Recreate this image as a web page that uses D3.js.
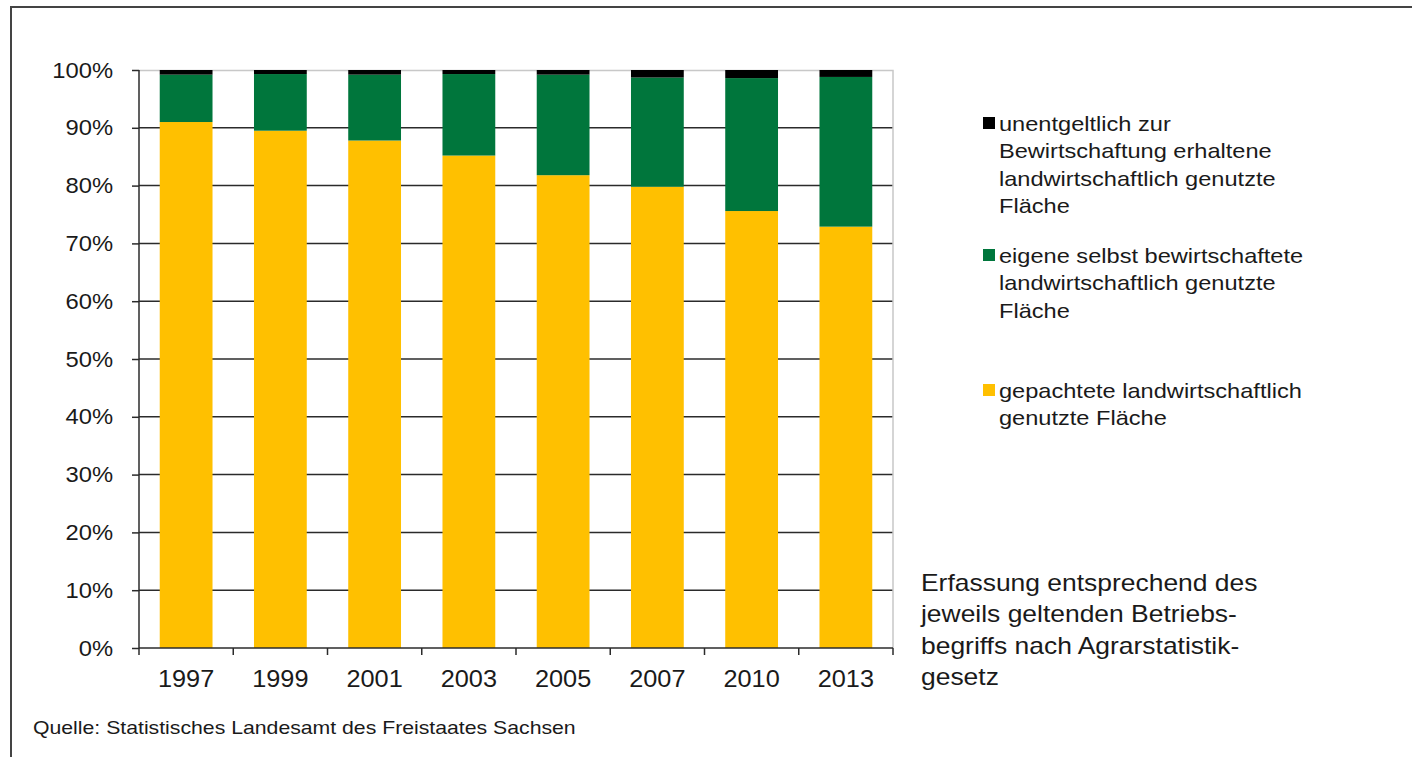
<!DOCTYPE html>
<html>
<head>
<meta charset="utf-8">
<script src="https://cdn.jsdelivr.net/npm/d3@7"></script>
<style>
  body { margin: 0; background: #fff; }
  text { font-family: "Liberation Sans", Arial, sans-serif; fill: #1a1a1a; }
</style>
</head>
<body>
<div id="chart"></div>
<script>
var years = ["1997", "1999", "2001", "2003", "2005", "2007", "2010", "2013"];
var gepachtet = [91.0, 89.5, 87.8, 85.2, 81.8, 79.8, 75.6, 72.9];
var unentgeltlich = [0.8, 0.7, 0.8, 0.7, 0.8, 1.3, 1.4, 1.2];
var eigene = [8.2, 9.8, 11.4, 14.1, 17.4, 18.9, 23.0, 25.9];
var yTicks = [0, 10, 20, 30, 40, 50, 60, 70, 80, 90, 100];

var legendItems = [
  { color: "#000000", lines: ["unentgeltlich zur", "Bewirtschaftung erhaltene", "landwirtschaftlich genutzte", "Fläche"], y: 124 },
  { color: "#00763c", lines: ["eigene selbst bewirtschaftete", "landwirtschaftlich genutzte", "Fläche"], y: 256 },
  { color: "#ffc000", lines: ["gepachtete landwirtschaftlich", "genutzte Fläche"], y: 391 }
];
var noteLines = ["Erfassung entsprechend des", "jeweils geltenden Betriebs-", "begriffs nach Agrarstatistik-", "gesetz"];

var data = years.map(function (d, i) {
  return { year: d, gepachtet: gepachtet[i], eigene: eigene[i], unentgeltlich: unentgeltlich[i] };
});
var keys = ["gepachtet", "eigene", "unentgeltlich"];
var colors = { gepachtet: "#ffc000", eigene: "#00763c", unentgeltlich: "#000000" };

var W = 1412, H = 757;
var margin = { top: 70, left: 139 },
  width = 893 - 139,
  height = 648 - 70;

// the source text is a bit wider than the installed fonts, stretch around the anchor x
function stretch(sel, sx) {
  sel.each(function () {
    var t = d3.select(this);
    var x0 = +t.attr("x") || 0;
    t.attr("transform", "translate(" + x0 * (1 - sx) + ",0) scale(" + sx + ",1)");
  });
}

var svg = d3.select("#chart").append("svg").attr("width", W).attr("height", H);

// outer frame (runs off the page at right and bottom)
svg.append("path")
  .attr("d", "M11," + H + " L11,7 L" + W + ",7")
  .attr("fill", "none").attr("stroke", "#444").attr("stroke-width", 2);

var x = d3.scaleBand().domain(years).range([0, width]).paddingInner(0.44).paddingOuter(0.22);
var y = d3.scaleLinear().domain([0, 100]).range([height, 0]);

var g = svg.append("g").attr("transform", "translate(" + margin.left + "," + margin.top + ")");

// gridlines
g.append("g").selectAll("line").data(yTicks.filter(function (d) { return d > 0 && d < 100; }))
  .enter().append("line")
  .attr("x1", 0).attr("x2", width)
  .attr("y1", function (d) { return y(d); }).attr("y2", function (d) { return y(d); })
  .attr("stroke", "#2b2b2b").attr("stroke-width", 1.5);

// plot area border (top and right, light grey)
g.append("path")
  .attr("d", "M0,0.5 L" + width + ",0.5 L" + width + "," + height)
  .attr("fill", "none").attr("stroke", "#c8c8c8").attr("stroke-width", 1.5);

var stack = d3.stack().keys(keys)(data);

g.append("g").selectAll("g").data(stack).enter().append("g")
  .attr("fill", function (d) { return colors[d.key]; })
  .selectAll("rect").data(function (d) { return d; }).enter().append("rect")
  .attr("x", function (d) { return x(d.data.year); })
  .attr("width", x.bandwidth())
  .attr("y", function (d) { return y(d[1]); })
  .attr("height", function (d) { return y(d[0]) - y(d[1]); });

// y axis
var yAxis = d3.axisLeft(y).tickValues(yTicks).tickFormat(function (d) { return d + "%"; })
  .tickSize(7).tickPadding(19);
var ya = g.append("g").call(yAxis);
ya.select(".domain").attr("stroke", "#2b2b2b").attr("stroke-width", 1.5).attr("d", "M0," + height + "V0");
ya.selectAll(".tick line").attr("stroke", "#2b2b2b").attr("stroke-width", 1.5);
ya.selectAll("text").style("font-size", "22px").attr("fill", "#1a1a1a").call(stretch, 1.08);

// x axis: ticks between categories
var xa = g.append("g").attr("transform", "translate(0," + height + ")");
xa.append("line").attr("x1", 0).attr("x2", width).attr("stroke", "#2b2b2b").attr("stroke-width", 1.5);
var bounds = d3.range(years.length + 1).map(function (i) { return i * width / years.length; });
xa.selectAll(".xt").data(bounds).enter().append("line")
  .attr("x1", function (d) { return d; }).attr("x2", function (d) { return d; })
  .attr("y1", 0).attr("y2", 7)
  .attr("stroke", "#2b2b2b").attr("stroke-width", 1.5);
xa.selectAll(".xl").data(years).enter().append("text")
  .attr("x", function (d) { return x(d) + x.bandwidth() / 2; })
  .attr("y", 39)
  .attr("text-anchor", "middle")
  .style("font-size", "23px")
  .text(function (d) { return d; })
  .call(stretch, 1.1);

// legend
var lg = svg.append("g");
legendItems.forEach(function (item) {
  lg.append("rect").attr("x", 983).attr("y", item.y - 7).attr("width", 12).attr("height", 12).attr("fill", item.color);
  item.lines.forEach(function (l, i) {
    lg.append("text").attr("x", 999).attr("y", item.y + i * 27.3 + 7)
      .style("font-size", "20px").text(l).call(stretch, 1.18);
  });
});

// note
noteLines.forEach(function (l, i) {
  svg.append("text").attr("x", 921).attr("y", 591 + i * 31.3)
    .style("font-size", "23px").text(l).call(stretch, 1.15);
});

// source
svg.append("text").attr("x", 33).attr("y", 734).style("font-size", "18px")
  .text("Quelle: Statistisches Landesamt des Freistaates Sachsen")
  .call(stretch, 1.18);
</script>
</body>
</html>
